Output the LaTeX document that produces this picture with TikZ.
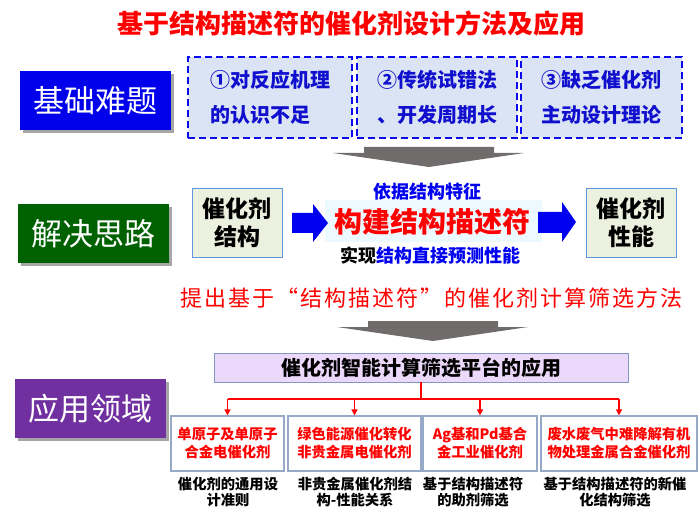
\documentclass[tikz,border=0pt]{standalone}
\usepackage{fontspec}
\setmainfont{Noto Sans CJK SC}
\newfontfamily\spacedfont[LetterSpace=9]{Noto Sans CJK SC}
\usetikzlibrary{shadows, arrows.meta}
\definecolor{cjichu}{RGB}{0,0,235}
\definecolor{csilu}{RGB}{0,97,0}
\definecolor{clingyu}{RGB}{112,48,160}
\definecolor{cdash}{RGB}{10,10,235}
\definecolor{cdashfill}{RGB}{219,228,244}
\definecolor{cdtxt}{RGB}{15,15,205}
\definecolor{cpfill}{RGB}{235,241,222}
\definecolor{cpbord}{RGB}{95,150,220}
\definecolor{ccyan}{RGB}{236,250,255}
\definecolor{cplat}{RGB}{236,216,250}
\definecolor{cplatbord}{RGB}{130,150,195}
\definecolor{cappbord}{RGB}{150,170,200}
\definecolor{cgrey}{RGB}{112,108,108}
\definecolor{cblue}{RGB}{0,0,240}
\definecolor{cred}{RGB}{255,0,0}

\begin{document}
\begin{tikzpicture}[x=1pt, y=-1pt, >={Triangle[length=6pt, width=6pt]},
    lbl/.style={fill=#1, text=white, minimum width=151pt, minimum height=59pt, inner sep=0pt,
      font=\fontsize{31}{36}\selectfont,
      drop shadow={shadow xshift=3pt, shadow yshift=-3pt, fill=black, opacity=.35}},
    dbox/.style={draw=cdash, dashed, dash pattern=on 7pt off 4pt, line width=1.6pt, fill=cdashfill,
      minimum height=81pt, align=left, text=cdtxt, font=\bfseries\fontsize{20}{35}\selectfont},
    pbox/.style={draw=cpbord, fill=cpfill, minimum width=90pt, minimum height=69pt, align=center,
      font=\bfseries\fontsize{23}{28}\selectfont},
    appbox/.style={draw=cappbord, line width=1.2pt, fill=white, minimum height=55pt, align=center,
      text=cred, font=\bfseries\fontsize{14.3}{18}\selectfont},
    note/.style={align=center, font=\bfseries\fontsize{14.3}{16}\selectfont},
    tree/.style={draw=cred, line width=1.8pt}]

  \useasboundingbox (0,0) rectangle (700,518);

  \node[text=cred, font=\bfseries\fontsize{26}{30}\selectfont] (title) at (351.5,24) {基于结构描述符的催化剂设计方法及应用};

  % row 1: problems
  \node[lbl=cjichu] (jichu) at (95.5,100.5) {基础难题};
  \node[dbox, minimum width=164pt] (p1) at (270,97.5) {①对反应机理\\的认识不足};
  \node[dbox, minimum width=160pt] (p2) at (437,97.5) {②传统试错法\\、开发周期长};
  \node[dbox, minimum width=161pt] (p3) at (601.5,97.5) {③缺乏催化剂\\主动设计理论};

  % grey arrows
  \fill[cgrey] (364,147) -- (494,147) -- (494,153) -- (524,153) -- (429,167) -- (333,153) -- (364,153) -- cycle;
  \fill[cgrey] (368,321) -- (498,321) -- (498,327) -- (528,327) -- (433,341) -- (337,327) -- (368,327) -- cycle;

  % row 2: idea
  \node[lbl=csilu] (silu) at (93,233.5) {解决思路};
  \node[pbox] (jiegou) at (237,222.5) {催化剂\\结构};
  \node[pbox] (xingneng) at (631,222.5) {催化剂\\性能};
  \node[fill=ccyan, minimum width=217pt, minimum height=42pt, inner sep=0pt] (desc) at (433.5,221) {};
  \node[text=cred, font=\bfseries\fontsize{28}{32}\selectfont] (goujian) at (432.5,222) {构建结构描述符};
  \node[text=cblue, font=\bfseries\fontsize{18}{20}\selectfont] (yiju) at (427,192) {依据结构特征};
  \node[font=\bfseries\fontsize{18}{20}\selectfont] (shixian) at (430,256) {实现{\color{cblue}结构直接预测性能}};
  \fill[cblue] (292,213) -- (313,213) -- (313,204) -- (328,223) -- (313,242) -- (313,233) -- (292,233) -- cycle;
  \fill[cblue] (538,212) -- (562,212) -- (562,202) -- (576,222) -- (562,242) -- (562,233) -- (538,233) -- cycle;

  \node[text=cred, font=\spacedfont\fontsize{22}{26}\selectfont] (tichu) at (431.5,298) {提出基于“结构描述符”的催化剂计算筛选方法};

  % row 3: applications
  \node[lbl=clingyu] (lingyu) at (90.5,408.5) {应用领域};
  \node[draw=cplatbord, fill=cplat, minimum width=414pt, minimum height=29pt, inner sep=0pt,
    font=\bfseries\fontsize{20}{24}\selectfont] (plat) at (421,367.5) {催化剂智能计算筛选平台的应用};

  \node[appbox, minimum width=113pt] (a1) at (227.5,443.5) {单原子及单原子\\合金电催化剂};
  \node[appbox, minimum width=133pt] (a2) at (354.5,443.5) {绿色能源催化转化\\非贵金属电催化剂};
  \node[appbox, minimum width=114pt] (a3) at (480,443.5) {Ag基和Pd基合\\金工业催化剂};
  \node[appbox, minimum width=156pt] (a4) at (619,443.5) {废水废气中难降解有机\\物处理金属合金催化剂};

  \node[note] (n1) at (228,492) {催化剂的通用设\\计准则};
  \node[note] (n2) at (355,492) {非贵金属催化剂结\\构-性能关系};
  \node[note] (n3) at (473,492) {基于结构描述符\\的助剂筛选};
  \node[note] (n4) at (615,492) {基于结构描述符的新催\\化结构筛选};

  % red tree
  \coordinate (bus) at (421,399);
  \draw[tree] (plat.south) -- (bus);
  \draw[tree] (a1.north |- bus) -- (a4.north |- bus);
  \foreach \b in {a1,a2,a3,a4}
    \draw[tree, ->] (\b.north |- bus) -- (\b.north);
\end{tikzpicture}
\end{document}
